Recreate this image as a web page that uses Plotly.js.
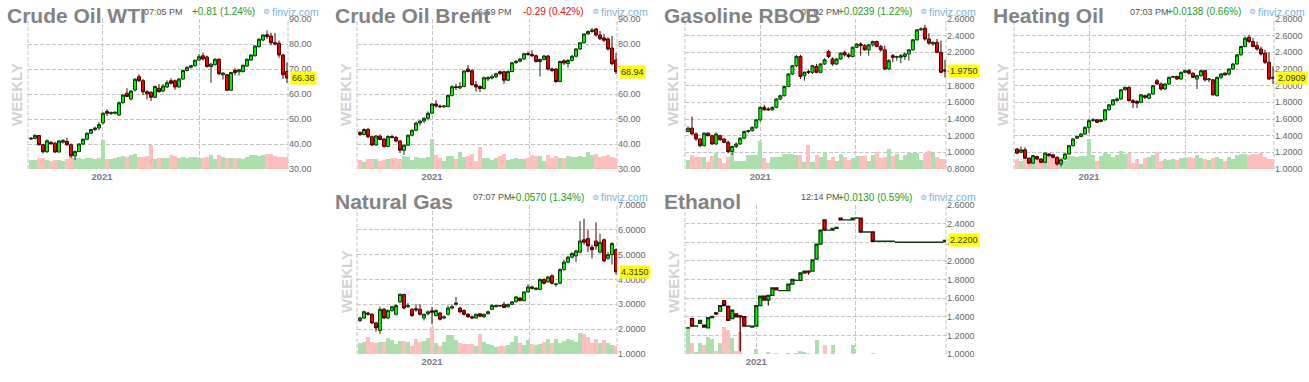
<!DOCTYPE html>
<html><head><meta charset="utf-8">
<script src="https://cdn.plot.ly/plotly-3.0.1.min.js"></script>
<style>html,body{margin:0;padding:0;background:#fff;}#chart{width:1309px;height:382px;}</style>
</head><body><div id="chart"></div>
<script>
// ---------------- DATA (weekly candles) ----------------
const wtiOpen  = [42.0,42.2,43.4,39.7,36.9,40.6,40.3,36.8,40.7,41.0, 39.7,35.3,37.0,40.0,41.9,44.3,45.8,46.4,48.5,53.0, 52.2,52.3,51.6,56.5,60.3,58.0,61.6,66.9,65.3,60.9, 60.7,58.7,62.3,61.2,62.8,65.3,65.3,62.8,66.0,69.4, 70.7,71.3,73.6,75.3,74.8,71.0,71.7,73.9,67.7,67.7, 61.5,69.5,68.9,69.0,71.2,73.6,75.3,79.0,81.6,83.7, 83.2,80.5,80.3,75.6,69.0];
const wtiHigh  = [42.8,43.9,43.6,40.1,41.8,41.2,40.8,41.6,42.0,42.5, 40.2,37.4,40.3,42.3,44.6,46.1,46.9,48.9,52.6,53.9, 53.0,52.9,57.0,60.0,62.3,61.6,66.3,67.9,66.0,61.5, 61.0,63.4,64.0,64.0,65.5,66.3,65.8,66.4,69.8,71.0, 71.7,73.8,76.0,76.6,75.3,72.3,74.4,74.2,68.6,68.0, 68.9,70.3,70.0,71.8,74.2,75.9,79.5,82.3,83.9,85.4, 84.5,84.4,81.4,76.0,72.7];
const wtiLow   = [41.6,41.9,39.4,36.2,36.5,39.7,36.4,36.6,40.2,39.3, 34.5,33.6,36.7,39.5,41.5,44.0,45.2,45.6,47.8,51.2, 51.6,51.8,51.3,56.2,58.8,57.4,61.0,64.8,59.6,57.8, 57.2,58.4,60.5,60.7,62.4,63.8,61.7,62.5,65.7,69.0, 70.2,71.0,73.2,73.5,70.6,64.5,71.4,67.5,65.8,61.3, 61.3,67.5,67.4,68.5,70.8,73.2,75.0,78.5,81.0,82.0, 79.5,79.5,74.5,66.0,64.4];
const wtiClose = [42.3,43.4,39.7,36.9,41.3,40.1,36.8,41.2,41.4,39.7, 35.3,37.0,40.0,41.9,44.3,45.8,46.4,47.8,52.3,52.3, 52.6,52.7,56.5,59.6,59.0,61.2,65.9,65.3,60.9,60.1, 58.7,63.0,60.9,63.2,64.5,64.3,62.8,66.0,69.4,70.7, 71.3,73.5,74.9,74.0,71.0,72.0,73.9,68.1,68.4,61.5, 68.6,68.6,69.7,71.5,73.9,75.6,79.2,81.9,83.6,83.0, 80.5,80.0,75.6,67.7,66.38];
const wtiVolume = [9,9,11,11,9,8,9,9,8,10, 13,11,11,10,11,11,10,11,29,10, 10,11,12,13,12,14,15,12,12,13, 24,10,11,11,11,14,13,11,12,11, 12,12,11,11,12,14,10,14,12,11, 11,11,11,10,12,14,14,13,14,15, 15,13,12,12,12];

const brentOpen  = [44.6,43.8,45.8,42.9,39.6,43.2,42.0,39.0,43.0,42.6, 41.2,37.5,39.5,43.5,45.5,48.4,49.2,50.3,52.3,56.0, 55.2,54.9,55.0,59.4,62.9,62.4,63.0,70.0,69.3,63.7, 63.0,62.2,66.0,66.4,66.9,68.9,68.9,65.5,69.0,72.5, 73.1,74.0,76.2,75.8,75.3,73.0,73.8,75.2,70.0,70.0, 65.0,73.3,72.2,73.4,75.1,78.0,80.5,84.0,85.0,86.0, 83.6,82.4,82.0,78.4,73.6];
const brentHigh  = [45.2,46.3,46.5,43.4,43.6,43.8,42.4,43.5,43.7,43.2, 41.6,39.9,43.8,45.8,48.8,49.5,50.6,53.0,56.4,57.5, 55.8,55.6,59.8,63.5,64.0,64.8,69.6,71.5,69.9,65.2, 63.5,67.0,67.1,67.9,68.5,69.4,69.2,69.4,72.9,73.6, 74.4,76.5,77.0,77.5,75.8,74.2,75.6,75.6,70.6,70.4, 73.4,73.9,74.0,75.6,78.4,80.8,84.3,85.5,86.4,86.4, 85.2,84.0,82.6,83.2,76.5];
const brentLow   = [43.2,43.5,42.3,39.2,39.3,41.5,38.6,38.7,42.2,40.6, 36.4,35.6,39.2,43.0,45.2,47.3,48.3,49.5,52.0,54.5, 54.5,54.4,54.7,59.0,61.6,62.0,62.7,68.6,63.3,61.0, 60.8,61.8,65.2,65.8,66.3,67.6,64.1,65.2,68.7,72.1, 72.7,73.7,75.3,74.8,72.6,67.0,73.4,69.4,68.9,64.4, 64.7,71.6,70.6,73.0,74.7,77.6,80.1,83.6,84.5,83.0, 81.6,80.9,77.4,71.5,68.0];
const brentClose = [43.8,45.8,42.9,39.6,43.2,41.8,39.0,43.0,42.6,41.2, 37.5,39.5,43.5,45.5,48.4,49.2,50.3,52.3,56.0,55.2, 54.9,55.2,59.4,62.9,62.6,63.0,69.2,69.0,63.7,62.8, 62.2,66.5,66.6,66.9,68.1,68.2,65.5,69.0,72.5,73.1, 74.0,76.1,75.8,75.3,73.0,73.8,75.2,70.0,69.4,65.0, 73.0,72.4,73.4,75.1,78.0,80.5,84.0,85.0,85.6,83.6, 82.1,81.5,78.0,72.1,68.94];
const brentVolume = [9,7,10,10,10,8,9,10,11,11, 10,13,12,9,12,11,11,12,30,14, 11,8,13,13,10,17,12,13,15,8, 22,11,11,9,11,13,15,9,10,11, 10,10,11,14,13,13,8,14,11,13, 11,11,13,12,12,13,12,17,14,15, 12,13,14,12,11];

const rbobOpen  = [1.25,1.29,1.22,1.16,1.08,1.23,1.20,1.10,1.20,1.16, 1.12,1.01,1.07,1.10,1.17,1.25,1.26,1.30,1.39,1.54, 1.52,1.51,1.54,1.64,1.68,1.79,1.94,2.04,2.15,1.92, 1.97,1.96,2.03,1.96,2.06,2.21,2.12,2.06,2.12,2.20, 2.17,2.15,2.26,2.30,2.28,2.23,2.29,2.33,2.27,2.23, 2.00,2.16,2.14,2.14,2.15,2.18,2.23,2.35,2.47,2.49, 2.36,2.30,2.32,2.20,1.99];
const rbobHigh  = [1.31,1.43,1.24,1.17,1.24,1.24,1.21,1.24,1.21,1.17, 1.14,1.08,1.12,1.18,1.26,1.27,1.31,1.40,1.55,1.57, 1.54,1.55,1.65,1.69,1.80,1.95,2.05,2.17,2.17,1.97, 1.99,2.05,2.06,2.07,2.13,2.23,2.14,2.13,2.20,2.22, 2.19,2.27,2.31,2.32,2.30,2.30,2.34,2.34,2.29,2.28, 2.12,2.18,2.16,2.18,2.20,2.24,2.36,2.48,2.50,2.53, 2.43,2.33,2.36,2.34,2.11];
const rbobLow   = [1.24,1.21,1.14,1.06,1.07,1.19,1.09,1.09,1.14,1.11, 0.99,0.97,1.05,1.09,1.16,1.23,1.25,1.28,1.37,1.50, 1.50,1.50,1.53,1.63,1.67,1.78,1.93,2.02,1.88,1.86, 1.94,1.94,1.95,1.95,2.05,2.13,2.04,2.05,2.11,2.15, 2.13,2.14,2.25,2.16,2.22,2.16,2.27,2.26,2.21,1.99, 1.99,2.08,2.10,2.07,2.11,2.10,2.22,2.34,2.46,2.34, 2.29,2.28,2.19,1.95,1.90];
const rbobClose = [1.29,1.22,1.16,1.08,1.23,1.20,1.10,1.22,1.15,1.12, 1.01,1.07,1.10,1.17,1.25,1.26,1.30,1.39,1.54,1.51, 1.51,1.54,1.64,1.68,1.79,1.94,2.04,2.15,1.91,1.96, 1.96,2.04,1.96,2.06,2.11,2.15,2.06,2.12,2.19,2.17, 2.15,2.26,2.30,2.28,2.23,2.29,2.33,2.27,2.23,2.00, 2.10,2.14,2.15,2.16,2.18,2.23,2.35,2.47,2.48,2.36, 2.31,2.32,2.20,1.96,1.975];
const rbobVolume = [9,14,12,12,12,7,13,16,11,6, 12,16,8,8,8,14,14,14,28,11, 6,12,12,12,15,15,15,14,14,7, 24,7,14,12,17,9,12,8,15,12, 9,11,13,13,13,8,14,17,11,12, 20,13,15,9,14,16,16,16,9,16, 18,16,12,10,10];

const hoOpen  = [1.24,1.20,1.23,1.13,1.07,1.15,1.12,1.08,1.18,1.17, 1.14,1.06,1.12,1.18,1.28,1.37,1.39,1.42,1.50,1.58, 1.59,1.57,1.59,1.71,1.77,1.82,1.84,1.95,1.98,1.82, 1.81,1.80,1.88,1.85,1.90,2.06,2.02,1.96,2.02,2.10, 2.11,2.08,2.16,2.18,2.15,2.08,2.12,2.18,2.07,2.07, 1.88,2.10,2.15,2.14,2.20,2.26,2.37,2.47,2.58,2.53, 2.48,2.44,2.39,2.28,2.10];
const hoHigh  = [1.25,1.27,1.26,1.14,1.17,1.16,1.13,1.20,1.19,1.18, 1.15,1.12,1.19,1.29,1.37,1.40,1.43,1.51,1.60,1.61, 1.60,1.60,1.72,1.78,1.84,1.86,1.96,1.99,1.99,1.84, 1.83,1.90,1.89,1.91,2.01,2.08,2.04,2.03,2.11,2.12, 2.12,2.17,2.19,2.20,2.16,2.13,2.19,2.19,2.09,2.08, 2.11,2.15,2.16,2.21,2.27,2.38,2.48,2.59,2.61,2.57, 2.53,2.47,2.43,2.40,2.23];
const hoLow   = [1.18,1.19,1.12,1.06,1.06,1.11,1.07,1.07,1.15,1.13, 1.04,1.03,1.11,1.17,1.27,1.36,1.38,1.41,1.43,1.57, 1.55,1.56,1.58,1.70,1.76,1.81,1.83,1.94,1.81,1.73, 1.73,1.79,1.84,1.84,1.89,2.01,1.94,1.95,2.01,2.09, 2.07,2.07,2.15,2.13,2.09,1.96,2.11,2.05,2.04,1.88, 1.87,2.08,2.12,2.12,2.19,2.25,2.36,2.46,2.51,2.46, 2.42,2.36,2.26,2.07,2.02];
const hoClose = [1.19,1.23,1.13,1.07,1.16,1.12,1.08,1.19,1.16,1.14, 1.06,1.11,1.18,1.28,1.36,1.39,1.42,1.50,1.58,1.59, 1.56,1.59,1.71,1.77,1.83,1.84,1.95,1.98,1.82,1.80, 1.79,1.89,1.86,1.90,2.00,2.02,1.96,2.02,2.10,2.11, 2.08,2.16,2.18,2.15,2.10,2.12,2.18,2.07,2.08,1.89, 2.10,2.14,2.13,2.20,2.26,2.37,2.47,2.57,2.53,2.47, 2.44,2.38,2.28,2.08,2.0909];
const hoVolume = [10,8,10,8,7,11,8,10,15,12, 11,12,8,13,13,12,13,13,30,14, 8,13,16,15,12,14,18,15,16,6, 10,5,11,12,14,17,8,10,9,10, 9,11,11,12,11,14,11,10,9,11, 12,10,8,12,10,14,15,15,14,15, 15,16,12,10,10];

const ngOpen  = [2.35,2.45,2.65,2.60,2.25,1.95,2.80,2.45,2.75,2.60, 3.10,3.40,2.90,2.80,2.82,2.80,2.45,2.62,2.74,2.55, 2.65,2.45,2.60,2.85,3.00,2.85,2.75,2.60,2.50,2.45, 2.62,2.50,2.62,2.80,2.90,2.95,3.00,2.90,3.00,3.10, 3.25,3.15,3.50,3.70,3.60,3.60,4.00,3.90,4.15,3.80, 3.85,4.40,4.70,4.90,4.95,5.10,5.60,5.65,5.30,5.55, 5.10,5.60,4.85,5.00,5.20];
const ngHigh  = [2.50,2.75,2.70,2.65,2.30,2.90,2.85,2.80,2.95,3.00, 3.45,3.42,3.05,2.85,3.00,3.00,2.62,2.75,2.90,2.80, 2.70,2.55,2.95,3.00,3.30,2.90,2.80,2.65,2.55,2.62, 2.65,2.62,2.75,3.00,2.98,2.98,3.10,3.02,3.12,3.32, 3.30,3.52,3.80,3.75,3.68,4.05,4.05,4.15,4.20,3.85, 4.45,4.80,4.95,5.10,5.20,6.35,6.45,6.00,5.40,6.30, 5.85,5.65,5.10,5.50,5.25];
const ngLow   = [2.28,2.40,2.55,2.20,1.90,1.80,2.40,2.40,2.70,2.55, 3.05,2.80,2.85,2.50,2.70,2.55,2.35,2.55,2.20,2.50, 2.35,2.40,2.55,2.80,2.95,2.65,2.55,2.45,2.40,2.44, 2.48,2.45,2.60,2.78,2.88,2.90,2.85,2.88,2.98,3.08, 3.12,3.12,3.48,3.60,3.56,3.58,3.80,3.88,3.80,3.70, 3.82,4.35,4.65,4.85,4.70,5.05,5.40,5.10,4.85,5.20, 5.05,4.70,4.80,4.60,4.20];
const ngClose = [2.45,2.70,2.60,2.25,2.05,2.80,2.45,2.75,2.90,2.95, 3.40,2.85,2.95,2.55,2.78,2.60,2.60,2.70,2.68,2.75, 2.40,2.50,2.85,2.90,3.05,2.70,2.60,2.50,2.45,2.60, 2.52,2.60,2.70,2.95,2.95,2.94,2.87,3.00,3.10,3.30, 3.15,3.50,3.70,3.64,3.65,4.00,3.85,4.10,3.85,3.82, 4.40,4.70,4.90,5.05,5.15,5.55,5.50,5.35,5.20,5.35, 5.50,4.75,5.00,5.45,4.315];
const ngVolume = [11,12,17,12,11,12,12,16,14,10, 13,13,12,8,15,12,13,16,27,11, 8,12,19,19,14,11,10,10,10,8, 20,12,10,9,7,8,8,9,12,18, 11,9,14,10,9,10,12,15,11,15, 11,13,15,14,12,21,20,17,11,15, 11,14,11,9,8];

const ethOpen  = [1.280,1.38,1.300,1.33,1.31,1.28,1.39,1.44,1.46,1.57, 1.51,1.38,1.43,1.41,1.40,1.300,1.29,1.30,1.52,1.62, 1.58,1.63,1.71,1.680,1.680,1.68,1.75,1.790,1.79,1.87, 1.89,1.89,2.02,2.18,2.44,2.330,2.33,2.35,2.46,2.440, 2.440,2.44,2.460,2.46,2.310,2.310,2.31,2.210,2.210,2.210, 2.210,2.210,2.200,2.200,2.200,2.200,2.200,2.200,2.200,2.200, 2.200,2.200,2.200,2.200,2.207];
const ethHigh  = [1.29,1.39,1.31,1.36,1.31,1.39,1.41,1.45,1.52,1.58, 1.52,1.47,1.43,1.42,1.40,1.301,1.30,1.52,1.62,1.62, 1.63,1.71,1.71,1.681,1.681,1.75,1.80,1.791,1.87,1.89, 1.89,2.01,2.18,2.33,2.44,2.331,2.35,2.36,2.46,2.441, 2.441,2.46,2.461,2.46,2.311,2.311,2.31,2.211,2.211,2.211, 2.211,2.211,2.201,2.201,2.201,2.201,2.201,2.201,2.201,2.201, 2.201,2.201,2.201,2.201,2.22];
const ethLow   = [1.27,1.30,1.30,1.33,1.29,1.28,1.39,1.42,1.46,1.52, 1.36,1.38,1.40,1.03,1.30,1.300,1.29,1.30,1.52,1.58, 1.52,1.63,1.69,1.680,1.680,1.68,1.75,1.790,1.79,1.87, 1.85,1.89,2.02,2.18,2.33,2.330,2.33,2.35,2.44,2.440, 2.440,2.44,2.460,2.31,2.310,2.310,2.21,2.210,2.210,2.210, 2.210,2.210,2.200,2.200,2.200,2.200,2.200,2.200,2.200,2.200, 2.200,2.200,2.200,2.200,2.207];
const ethClose = [1.281,1.30,1.301,1.36,1.29,1.39,1.405,1.43,1.52,1.52, 1.36,1.47,1.40,1.40,1.30,1.301,1.30,1.52,1.62,1.58, 1.63,1.71,1.69,1.681,1.681,1.75,1.80,1.791,1.87,1.89, 1.88,2.01,2.18,2.33,2.33,2.331,2.35,2.36,2.44,2.441, 2.441,2.46,2.461,2.31,2.311,2.311,2.21,2.211,2.211,2.211, 2.211,2.211,2.201,2.201,2.201,2.201,2.201,2.201,2.201,2.201, 2.201,2.201,2.201,2.201,2.22];
const ethVolume = [26,11,2,11,9,17,15,3,11,27, 24,16,3,22,0,0,0,5,0,0, 2,0,1,0,0,1,0,1,3,2, 1,0,14,0,9,0,9,0,0,0, 0,9,0,0,0,0,1,0,0,0, 0,0,0,0,0,0,0,0,0,0, 0,0,0,0,0];

const yearLabels = ['2021', ''];

// ---------------- PANEL SETUP ----------------
const W = 1309, H = 382;
const FONT = 'Arial, "Liberation Sans", Helvetica, sans-serif';
const rows = [
  {top: 19, bottom: 169, titleY: 15.3, infoY: 11.7, weeklyY: 95},
  {top: 205, bottom: 354, titleY: 201, infoY: 197.3, weeklyY: 282}
];
const panels = [
  {title:'Crude Oil WTI', time:'07:05 PM', change:'+0.81 (1.24%)', up:true, o:wtiOpen, h:wtiHigh, l:wtiLow, c:wtiClose, v:wtiVolume,
   row:0, left:28, right:288, titleX:5, weeklyX:17, range:[30,90], step:10, dec:2, grid:[17.75,42], lw:1},
  {title:'Crude Oil Brent', time:'06:59 PM', change:'-0.29 (0.42%)', up:false, o:brentOpen, h:brentHigh, l:brentLow, c:brentClose, v:brentVolume,
   row:0, left:357, right:617, titleX:333, weeklyX:346, range:[30,90], step:10, dec:2, grid:[18,42.25], lw:1},
  {title:'Gasoline RBOB', time:'07:02 PM', change:'+0.0239 (1.22%)', up:true, o:rbobOpen, h:rbobHigh, l:rbobLow, c:rbobClose, v:rbobVolume,
   row:0, left:685, right:946, titleX:662, weeklyX:673, range:[0.8,2.6], step:0.2, dec:4, grid:[18,41.75], lw:1},
  {title:'Heating Oil', time:'07:03 PM', change:'+0.0138 (0.66%)', up:true, o:hoOpen, h:hoHigh, l:hoLow, c:hoClose, v:hoVolume,
   row:0, left:1014, right:1274, titleX:991, weeklyX:1003, range:[1.0,2.8], step:0.2, dec:4, grid:[18,42], lw:1},
  {title:'Natural Gas', time:'07:07 PM', change:'+0.0570 (1.34%)', up:true, o:ngOpen, h:ngHigh, l:ngLow, c:ngClose, v:ngVolume,
   row:1, left:357, right:617, titleX:333, weeklyX:346, range:[1,7], step:1, dec:4, grid:[18,42.25], lw:1},
  {title:'Ethanol', time:'12:14 PM', change:'+0.0130 (0.59%)', up:true, o:ethOpen, h:ethHigh, l:ethLow, c:ethClose, v:ethVolume,
   row:1, left:685, right:946, titleX:662, weeklyX:673, range:[1.0,2.6], step:0.2, dec:4, grid:[17,41.75], lw:1.3}
];

const GRID = '#c4c4c4';
const DASH = '4px,2px';
const traces = [];
const annotations = [];
const shapes = [];
const layout = {
  width: W, height: H, margin: {l:0, r:0, t:0, b:0},
  paper_bgcolor: '#fff', plot_bgcolor: '#fff',
  showlegend: false, hovermode: false,
  boxgap: 0.25, boxgroupgap: 0, bargap: 0,
  font: {family: FONT}
};

function aid(letter, n) { return n === 1 ? letter : letter + n; }
function akey(letter, n) { return n === 1 ? letter + 'axis' : letter + 'axis' + n; }
const px = x => x / W;
const py = y => 1 - y / H;

panels.forEach((p, i) => {
  const k = i + 1;
  const xid = aid('x', k), vid = aid('y', 2*k - 1), pid = aid('y', 2*k);
  const r = rows[p.row];
  const idx = p.c.map((_, j) => j);
  const n = idx.length;

  layout[akey('x', k)] = {
    domain: [px(p.left), px(p.right)], range: [-0.75, n - 0.75], anchor: vid,
    tickmode: 'array', tickvals: p.grid, ticktext: yearLabels.map(t => t ? '<b>' + t + '</b>' : ''),
    showgrid: true, gridcolor: GRID, griddash: DASH, gridwidth: 1,
    zeroline: false, showline: false, ticks: '',
    tickfont: {family: FONT, size: 9.5, color: '#7a7a7a'},
    rangeslider: {visible: false}, fixedrange: true
  };
  layout[akey('y', 2*k - 1)] = {
    domain: [py(r.bottom), py(r.top)], range: [0, r.bottom - r.top], anchor: xid,
    visible: false, fixedrange: true
  };
  layout[akey('y', 2*k)] = {
    overlaying: vid, anchor: xid, side: 'right',
    range: [p.range[0] - 1e-6, p.range[1] + 1e-6],
    tickmode: 'linear', tick0: p.range[0], dtick: p.step, tickformat: '.' + p.dec + 'f',
    showgrid: true, gridcolor: GRID, griddash: DASH, gridwidth: 1,
    zeroline: false, showline: false, ticks: '',
    tickfont: {family: FONT, size: 9, color: '#666'}, fixedrange: true
  };

  // volume bars (colour by candle direction)
  traces.push({
    type: 'bar', x: idx, y: p.v, xaxis: xid, yaxis: vid, width: 1,
    marker: {color: p.c.map((c, j) => c >= p.o[j] ? '#abdfab' : '#ffbfbf'), line: {width: 0}},
    hoverinfo: 'skip'
  });
  // candles
  traces.push({
    type: 'candlestick', x: idx, open: p.o, high: p.h, low: p.l, close: p.c,
    xaxis: xid, yaxis: pid, whiskerwidth: 0,
    increasing: {line: {color: '#0d3a0d', width: p.lw}, fillcolor: '#00f400'},
    decreasing: {line: {color: '#4a0000', width: p.lw}, fillcolor: '#f40000'},
    hoverinfo: 'skip'
  });

  // dashed plot edges
  [0, 1].forEach(e => shapes.push({
    type: 'line', xref: xid + ' domain', yref: vid + ' domain', x0: e, x1: e, y0: 0, y1: 1,
    line: {color: GRID, width: 1, dash: DASH}, layer: 'below'
  }));

  // header texts (behind the title)
  annotations.push({xref:'paper', yref:'paper', x: px(p.left + 157), y: py(r.infoY), xanchor:'right', yanchor:'middle',
    text: p.time, showarrow:false, font:{family: FONT, size: 9, color:'#555'}});
  annotations.push({xref:'paper', yref:'paper', x: px(p.left + 229), y: py(r.infoY), xanchor:'right', yanchor:'middle',
    text: p.change, showarrow:false, font:{family: FONT, size: 10, color: p.up ? '#1e9a1e' : '#dd1111'}});
  annotations.push({xref:'paper', yref:'paper', x: px(p.left + 233), y: py(r.infoY), xanchor:'left', yanchor:'middle',
    text: '⊚', showarrow:false, font:{family: 'DejaVu Sans, sans-serif', size: 8, color:'#7ab2e0'}});
  annotations.push({xref:'paper', yref:'paper', x: px(p.left + 242), y: py(r.infoY), xanchor:'left', yanchor:'middle',
    text: 'finviz.com', showarrow:false, font:{family: FONT, size: 10.5, color:'#7ab2e0'}});
  // title
  annotations.push({xref:'paper', yref:'paper', x: px(p.titleX), y: py(r.titleY), xanchor:'left', yanchor:'middle',
    text: '<b>' + p.title + '</b>', showarrow:false, font:{family: FONT, size: 21, color:'#838383'}});
  // WEEKLY
  annotations.push({xref:'paper', yref:'paper', x: px(p.weeklyX), y: py(r.weeklyY), xanchor:'center', yanchor:'middle',
    text: '<b>WEEKLY</b>', textangle: -90, showarrow:false, font:{family: FONT, size: 15, color:'#d2d2d2'}});
  // last price label
  const last = p.c[n - 1];
  annotations.push({xref:'paper', yref: pid, x: px(p.right + 2), y: last, xanchor:'left', yanchor:'middle',
    text: last.toFixed(p.dec), showarrow:false, bgcolor:'#ffff00', borderpad: 1,
    font:{family: FONT, size: 9, color:'#333'}});
});

layout.annotations = annotations;
layout.shapes = shapes;

Plotly.newPlot('chart', traces, layout, {staticPlot: true, displayModeBar: false});
</script>
</body></html>
